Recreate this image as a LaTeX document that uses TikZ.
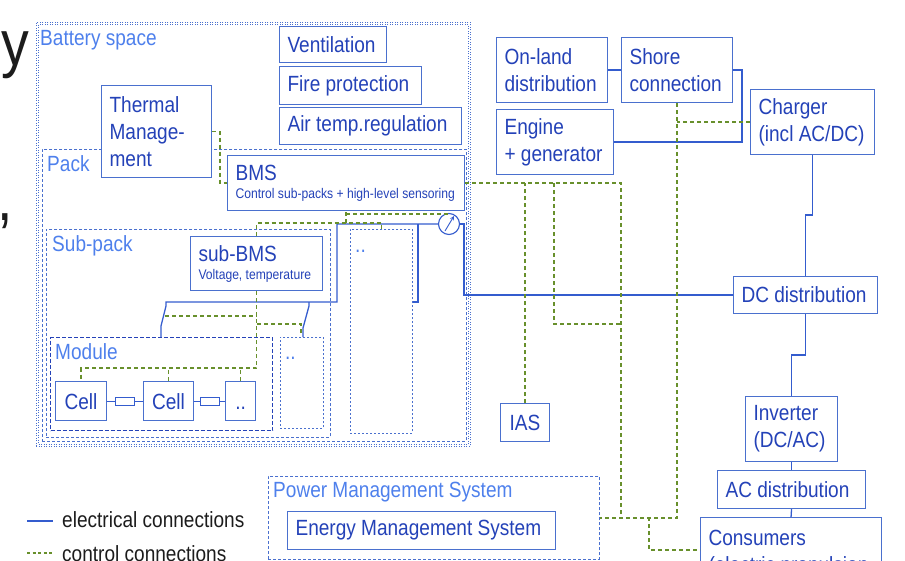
\documentclass[tikz,border=0pt]{standalone}
\usepackage{fontspec}
\setmainfont{Liberation Sans}[FakeStretch=0.866]
\usetikzlibrary{positioning}
\usetikzlibrary{arrows}
\usetikzlibrary{calc}

\definecolor{boxblue}{RGB}{74,112,206}
\definecolor{txtblue}{RGB}{36,66,184}
\definecolor{lblblue}{RGB}{78,128,236}
\definecolor{elecblue}{RGB}{52,92,206}
\definecolor{ctrlgreen}{RGB}{104,144,44}
\definecolor{fragblack}{RGB}{28,28,28}

\tikzset{
  unit/.style={draw=boxblue, fill=white, line width=1.1pt, text=txtblue, font=\fontsize{22}{27}\selectfont,
    inner xsep=8pt, inner ysep=0pt, align=flush left, anchor=north west},
  cellbox/.style={unit, align=flush center, inner xsep=0pt, text height=16pt, text depth=0pt},
  area/.style={draw=boxblue, line width=0.9pt, dash pattern=on 3pt off 2pt, inner sep=0pt, anchor=north west},
  arealabel/.style={text=lblblue, font=\fontsize{22}{27}\selectfont, inner sep=0pt, anchor=base west},
  elec/.style={draw=elecblue, line width=1.3pt},
  ctrl/.style={draw=ctrlgreen, line width=1.5pt, dash pattern=on 4pt off 3pt},
  fuse/.style={draw=elecblue, line width=1pt, minimum width=19pt, minimum height=8pt, inner sep=0pt},
  legendtext/.style={text=fragblack, font=\fontsize{22}{27}\selectfont, inner sep=0pt, anchor=base west},
}

\begin{document}
\begin{tikzpicture}[x=1pt, y=-1pt]
 % frame of the slide crop
 \useasboundingbox (0,0) rectangle (905,560);

 % cut-off title letters at the left edge
 \node[text=fragblack, font=\fontsize{64}{64}\selectfont, inner sep=0pt, anchor=base east] (fragy) at (29,65) {y};
 \node[text=fragblack, font=\fontsize{64}{64}\selectfont, inner sep=0pt, anchor=base west] (fragcomma) at (-3,220) {,};

 % areas
 \node[area, dash pattern=on 1pt off 1.5pt, minimum width=434pt, minimum height=424pt] (battery) at (36,22) {};
 \draw[boxblue, line width=0.8pt, dash pattern=on 1pt off 1.5pt] ($(battery.north west)+(2.5,2.5)$) rectangle ($(battery.south east)+(-2.5,-2.5)$);
 \node[area, minimum width=424pt, minimum height=292pt] (pack) at (42,149) {};
 \node[area, minimum width=284pt, minimum height=208pt] (subpack) at (46,229) {};
 \node[area, draw=txtblue, line width=1.1pt, dash pattern=on 4pt off 2pt, minimum width=222pt, minimum height=93pt] (module) at (50,337) {};
 \node[area, dash pattern=on 2pt off 2pt, minimum width=43pt, minimum height=91pt] (module2) at (280,337) {};
 \node[area, dash pattern=on 2pt off 2pt, minimum width=62pt, minimum height=204pt] (subpack2) at (350,229) {};
 \node[area, minimum width=331pt, minimum height=83pt] (pms) at (268,476) {};

 \node[arealabel] (lblbattery) at (40,45) {Battery space};
 \node[arealabel] (lblpack) at (47,171) {Pack};
 \node[arealabel] (lblsubpack) at (52,251) {Sub-pack};
 \node[arealabel] (lblmodule) at (55,359) {Module};
 \node[arealabel] (lblmodule2) at (285,359) {..};
 \node[arealabel] (lblsubpack2) at (355,252) {..};
 \node[arealabel] (lblpms) at (273,497) {Power Management System};

 % boxes of the battery space
 \node[unit, text width=91pt, minimum height=36pt] (vent) at (279,26) {Ventilation};
 \node[unit, text width=126pt, minimum height=38pt] (fire) at (279,66) {Fire protection};
 \node[unit, text width=166pt, minimum height=37pt] (airtemp) at (279,107) {Air temp.regulation};
 \node[unit, text width=94pt, minimum height=92pt] (thermal) at (101,85) {Thermal\\Manage-\\ment};
 \node[unit, text width=221pt, minimum height=55pt] (bms) at (227,155)
   {BMS\\[-9pt]{\fontsize{14}{18}\selectfont\mbox{Control sub-packs + high-level sensoring}}};
 \node[unit, text width=116pt, minimum height=54pt] (subbms) at (190,236)
   {sub-BMS\\[-9pt]{\fontsize{14}{18}\selectfont\mbox{Voltage, temperature}}};
 \node[cellbox, minimum width=51pt, minimum height=39pt] (cell1) at (55,381) {Cell};
 \node[cellbox, minimum width=50pt, minimum height=39pt] (cell2) at (143,381) {Cell};
 \node[cellbox, minimum width=30pt, minimum height=39pt] (celldots) at (225,381) {..};

 % boxes outside
 \node[unit, text width=95pt, minimum height=65pt] (onland) at (496,37) {On-land\\distribution};
 \node[unit, text width=95pt, minimum height=65pt] (shore) at (621,37) {Shore\\connection};
 \node[unit, text width=101pt, minimum height=65pt] (engine) at (496,109) {Engine\\+ generator};
 \node[unit, text width=108pt, minimum height=65pt] (charger) at (750,89) {Charger\\(incl AC/DC)};
 \node[unit, text width=128pt, minimum height=37pt] (dcdist) at (733,276) {DC distribution};
 \node[cellbox, minimum width=49pt, minimum height=38pt] (ias) at (500,403) {IAS};
 \node[unit, text width=76pt, minimum height=65pt] (inverter) at (745,396) {Inverter\\(DC/AC)};
 \node[unit, text width=132pt, minimum height=38pt] (acdist) at (717,470) {AC distribution};
 \node[unit, text width=165pt, inner ysep=13pt] (consumers) at (700,517) {Consumers\\(electric propulsion};
 \node[unit, text width=252pt, minimum height=38pt] (emsys) at (287,511) {Energy Management System};

 % ammeter on the pack output
 \node[circle, draw=elecblue, fill=white, line width=1.1pt, minimum size=21pt, inner sep=0pt] (amp) at (449,224) {};
 \draw[elecblue, line width=0.9pt, -stealth] ($(amp.center)+(-4,7)$) -- ($(amp.center)+(5,-8)$);

 % electrical connections
 \coordinate (swLlow) at (161,326);
 \coordinate (swL) at (166,306);
 \coordinate (swRlow) at (303,328);
 \coordinate (swR) at (309,306);
 \coordinate (bus) at (337,302);
 \coordinate (tap) at (418,224);
 \draw[elec] (module.north -| swLlow) -- (swLlow) -- (swL) |- (bus) |- (amp.west);
 \draw[elec] (module2.north -| swRlow) -- (swRlow) -- (swR) -- (swR |- bus);
 \draw[elec] (tap) |- (subpack2.east |- bus);
 \draw[elec] (amp.east) -- ++(4,0) |- (dcdist.west);
 \draw[elec] (onland) -- (shore);
 \draw[elec] (shore.east) -- ++(9,0) |- (engine.east);
 \draw[elec] (charger.south) -- ++(0,60) -| (dcdist.north);
 \draw[elec] (dcdist.south) -- ++(0,41) -| (inverter.north);
 \draw[elec] (inverter.south) -- (acdist.north);
 \draw[elec] (acdist.south) -- (consumers.north);
 \foreach \a/\b/\f in {cell1/cell2/fuseA, cell2/celldots/fuseB} {
   \path (\a.east) -- (\b.west) node[midway, fuse] (\f) {};
   \draw[elec, line width=1pt] (\a.east) -- (\f) -- (\b.west);
 }

 % control connections
 \coordinate (bmsbus) at ($(bms.south)+(0,12)$);
 \coordinate (swLmid) at (165,316);
 \coordinate (swRmid) at (301,333);
 \coordinate (loopA) at (554,324);
 \coordinate (ctrlR) at (621,517);
 \coordinate (cbranch) at (649,517);
 \draw[ctrl] (thermal.east) -- ++(8,0) |- (bms.west);
 \draw[ctrl] (subbms.north) |- (bmsbus) -| (subpack2.north);
 \draw[ctrl] (bmsbus) -- (bms.south);
 \draw[ctrl] ($(bms.south)+(0,3)$) -| (amp.north);
 \draw[ctrl] (subbms.south) -- ++(0,77) coordinate (cellbus) -| (cell1.north);
 \foreach \c in {cell2, celldots} {
   \draw[ctrl] (\c.north) -- (\c.north |- cellbus);
 }
 \draw[ctrl] (swLmid) -- (swLmid -| subbms.south);
 \draw[ctrl] (swRmid) |- ($(subbms.south)+(0,33)$);
 \draw[ctrl] (bms.east) -| (ctrlR);
 \draw[ctrl] (ias.north) -- (ias.north |- bms.east);
 \draw[ctrl] (loopA |- bms.east) -- (loopA) -- (loopA -| ctrlR);
 \draw[ctrl] (charger.west) -- (charger.west -| shore.south);
 \draw[ctrl] (shore.south) -- (shore.south |- pms.east) -- (pms.east);
 \draw[ctrl] (cbranch) |- ($(consumers.north west)+(0,33)$);

 % legend
 \node[legendtext] (legelec) at (62,527) {electrical connections};
 \node[legendtext] (legctrl) at (62,561) {control connections};
 \draw[elec] ($(legelec.base west)+(-35,-6)$) -- ++(26,0);
 \draw[ctrl, line width=1.1pt, dash pattern=on 3pt off 2.5pt] ($(legctrl.base west)+(-35,-8)$) -- ++(26,0);
\end{tikzpicture}
\end{document}
